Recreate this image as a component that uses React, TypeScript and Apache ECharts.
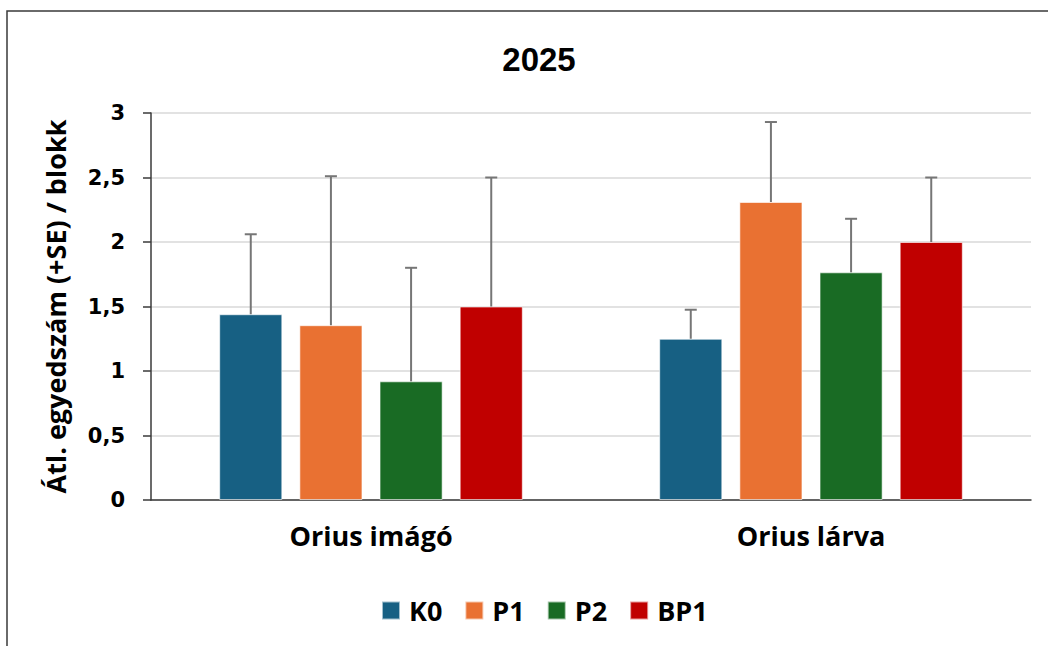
import React, { useEffect, useRef } from "react";
import * as echarts from "echarts";

const categories = ["Orius imágó", "Orius lárva"];
const seriesNames = ["K0", "P1", "P2", "BP1"];
const colors = ["#176083", "#E97132", "#196B24", "#C00000"];
const meanK0 = [1.44, 1.25];
const meanP1 = [1.355, 2.31];
const meanP2 = [0.92, 1.765];
const meanBP1 = [1.5, 2.0];
const upperK0 = [2.06, 1.475];
const upperP1 = [2.51, 2.93];
const upperP2 = [1.8, 2.18];
const upperBP1 = [2.5, 2.5];
const yTicks = [0, 0.5, 1, 1.5, 2, 2.5, 3];

const means = [meanK0, meanP1, meanP2, meanBP1];
const uppers = [upperK0, upperP1, upperP2, upperBP1];

const BAR_CAT_GAP = 0.31;
const BAR_GAP = 0.27;
const FONT = "'Open Sans', 'Liberation Sans', sans-serif";
const ARIAL = "'Liberation Sans', Arial, sans-serif";
const DEJAVU = "'DejaVu Sans', 'Liberation Sans', sans-serif";

export default function App() {
  const ref = useRef<HTMLDivElement>(null);
  useEffect(() => {
    document.body.style.margin = "0";
    const chart = echarts.init(ref.current!, undefined, { renderer: "svg" });
    const errData: number[][] = [];
    means.forEach((m, s) => {
      m.forEach((v, c) => errData.push([c, s, v, uppers[s][c]]));
    });
    const n = seriesNames.length;
    chart.setOption({
      animation: false,
      title: {
        text: "2025",
        left: 534,
        top: 38,
        textAlign: "center",
        textStyle: { fontFamily: ARIAL, fontWeight: "bold", fontSize: 33, color: "#000" },
      },
      legend: {
        data: seriesNames,
        left: 376,
        top: 592,
        itemWidth: 18,
        itemHeight: 18,
        itemGap: 22,
        icon: "rect",
        textStyle: { fontFamily: FONT, fontWeight: "bold", fontSize: 27, color: "#000", padding: [0, 0, 0, 4] },
      },
      graphic: [
        {
          type: "rect",
          shape: { x: 7, y: 11, width: 1200, height: 800 },
          style: { fill: "none", stroke: "#3a3a3a", lineWidth: 1.5 },
          silent: true,
          z: -1,
        },
      ],
      grid: { left: 151, right: 17, top: 113, bottom: 146 },
      xAxis: {
        type: "category",
        data: categories,
        axisLine: { lineStyle: { color: "#3a3a3a", width: 1.5 } },
        axisTick: { show: false },
        axisLabel: {
          fontFamily: FONT,
          fontWeight: "bold",
          fontSize: 27,
          color: "#000",
          margin: 22,
        },
      },
      yAxis: {
        type: "value",
        min: 0,
        max: 3,
        interval: 0.5,
        name: "Átl. egyedszám (+SE) / blokk",
        nameLocation: "middle",
        nameGap: 82,
        nameRotate: 90,
        nameTextStyle: { fontFamily: FONT, fontWeight: "bold", fontSize: 27, color: "#000" },
        axisLine: { show: true, lineStyle: { color: "#3a3a3a", width: 1.5 } },
        axisTick: { show: true, length: 8, lineStyle: { color: "#3a3a3a", width: 1.5 } },
        axisLabel: {
          color: "#000",
          margin: 26,
          formatter: (v: number) => (yTicks.includes(v) ? "{t|" + String(v).replace(".", ",") + "}" : ""),
          rich: {
            t: { fontFamily: DEJAVU, fontWeight: "bold", fontSize: 21, color: "#000" },
          },
        },
        splitLine: { lineStyle: { color: "#d9d9d9", width: 1.5 } },
      },
      series: [
        ...seriesNames.map((name, i) => ({
          name,
          type: "bar",
          data: means[i],
          barGap: `${BAR_GAP * 100}%`,
          barCategoryGap: `${BAR_CAT_GAP * 100}%`,
          itemStyle: { color: colors[i], borderColor: "rgba(255,255,255,0.6)", borderWidth: 1 },
        })),
        {
          type: "custom",
          name: "SE",
          data: errData,
          z: 3,
          renderItem: (params: any, api: any) => {
            const c = api.value(0);
            const s = api.value(1);
            const low = api.coord([c, api.value(2)]);
            const high = api.coord([c, api.value(3)]);
            const band = api.size([1, 0])[0];
            const barW = (band * (1 - BAR_CAT_GAP)) / (n + (n - 1) * BAR_GAP);
            const total = n * barW + (n - 1) * barW * BAR_GAP;
            const x = low[0] - total / 2 + s * barW * (1 + BAR_GAP) + barW / 2;
            const capHalf = 6;
            const style = { stroke: "#767676", lineWidth: 2 };
            return {
              type: "group",
              children: [
                { type: "line", shape: { x1: x, y1: low[1], x2: x, y2: high[1] }, style },
                { type: "line", shape: { x1: x - capHalf, y1: high[1], x2: x + capHalf, y2: high[1] }, style },
              ],
            };
          },
        },
      ],
    });
    return () => chart.dispose();
  }, []);
  return <div ref={ref} style={{ width: 1048, height: 646 }} />;
}
